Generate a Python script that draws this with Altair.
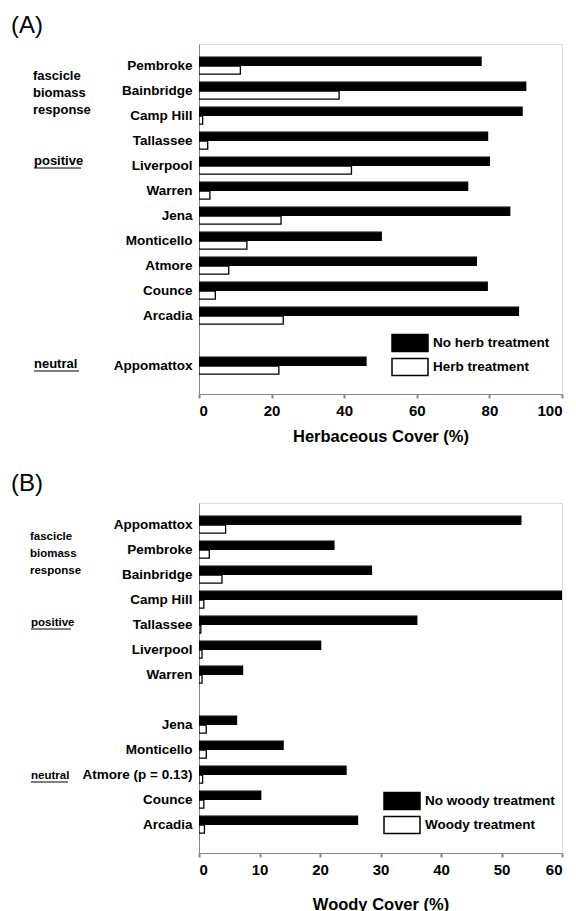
import altair as alt
import pandas as pd

FONT = "Liberation Sans"

# ---------------- Panel A data (Herbaceous cover, %) ----------------
sites_a = ["Pembroke", "Bainbridge", "Camp Hill", "Tallassee", "Liverpool", "Warren",
           "Jena", "Monticello", "Atmore", "Counce", "Arcadia", "Appomattox"]
no_herb = [77.7, 90.0, 89.0, 79.5, 80.0, 74.0, 85.6, 50.2, 76.4, 79.4, 88.0, 46.0]
herb = [11.4, 38.6, 1.0, 2.4, 42.0, 3.0, 22.6, 13.2, 8.2, 4.5, 23.2, 22.0]
legend_a = ["No herb treatment", "Herb treatment"]
order_a = sites_a[:11] + [" "] + sites_a[11:]

# ---------------- Panel B data (Woody cover, %) ----------------
sites_b = ["Appomattox", "Pembroke", "Bainbridge", "Camp Hill", "Tallassee", "Liverpool",
           "Warren", "Jena", "Monticello", "Atmore (p = 0.13)", "Counce", "Arcadia"]
no_woody = [53.2, 22.3, 28.5, 60.0, 36.0, 20.1, 7.2, 6.2, 13.9, 24.3, 10.2, 26.2]
woody = [4.4, 1.7, 3.8, 0.8, 0.3, 0.5, 0.5, 1.2, 1.2, 0.6, 0.8, 0.9]
legend_b = ["No woody treatment", "Woody treatment"]
order_b = sites_b[:7] + [" "] + sites_b[7:]

ticks_a = [0, 20, 40, 60, 80, 100]
ticks_b = [0, 10, 20, 30, 40, 50, 60]


def long_df(sites, v1, v2, names):
    rows = []
    for s, a, b in zip(sites, v1, v2):
        rows.append({"site": s, "treatment": names[0], "value": a})
        rows.append({"site": s, "treatment": names[1], "value": b})
    return pd.DataFrame(rows)


def text_layer(txt, x, y, size, weight="bold", baseline="middle"):
    return alt.Chart(pd.DataFrame({"t": [txt]})).mark_text(
        align="left", baseline=baseline, font=FONT, fontSize=size, fontWeight=weight,
        lineHeight=17, lineBreak="\n", color="black"
    ).encode(text="t:N", x=alt.value(x), y=alt.value(y))


def underline(x1, x2, y):
    return alt.Chart(pd.DataFrame({"u": [0]})).mark_rule(
        stroke="black", strokeWidth=1.2
    ).encode(x=alt.value(x1), x2=alt.value(x2), y=alt.value(y))


def panel(df, order, xdomain, xticks, xtitle, names, legx, legy, title_pad):
    bars = alt.Chart(df).mark_bar(stroke="black", strokeWidth=1.3, clip=True).encode(
        x=alt.X("value:Q",
                scale=alt.Scale(domain=xdomain, nice=False, zero=True),
                axis=alt.Axis(values=xticks, title=xtitle, grid=False, tickSize=4,
                              tickWidth=2, labelPadding=5, titlePadding=title_pad,
                              labelFontSize=15, labelFontWeight="bold",
                              titleFontSize=16.5, titleFontWeight="bold")),
        y=alt.Y("site:N", sort=order,
                scale=alt.Scale(domain=order, paddingInner=0.32, paddingOuter=0.66, align=0.4),
                axis=alt.Axis(title=None, ticks=False, labelPadding=7, labelFontSize=13.5,
                              labelFontWeight="bold", labelLimit=300)),
        yOffset=alt.YOffset("treatment:N", sort=names,
                            scale=alt.Scale(domain=names, paddingInner=0.1, paddingOuter=0)),
        color=alt.Color("treatment:N", sort=names,
                        scale=alt.Scale(domain=names, range=["black", "white"]),
                        legend=alt.Legend(title=None, orient="none", legendX=legx, legendY=legy,
                                          symbolType="M-2,-0.94H2V0.94H-2Z", symbolSize=324,
                                          symbolStrokeColor="black", symbolStrokeWidth=1.5,
                                          symbolOpacity=1, labelFont=FONT, labelFontSize=13.5,
                                          labelFontWeight="bold", labelColor="black",
                                          labelOffset=13, rowPadding=0, padding=0)),
    )
    return bars


df_a = long_df(sites_a, no_herb, herb, legend_a)
df_b = long_df(sites_b, no_woody, woody, legend_b)

chart_a = alt.layer(
    panel(df_a, order_a, [0, 100], ticks_a, "Herbaceous Cover (%)", legend_a, 201, 289, 10),
    text_layer("(A)", -188, -18, 24, weight="normal"),
    text_layer("fascicle\nbiomass\nresponse", -166, 26, 13, baseline="top"),
    text_layer("positive", -165, 117, 13),
    underline(-165, -118, 124),
    text_layer("neutral", -165, 320, 13),
    underline(-165, -120, 327),
).properties(width=363, height=350)

chart_b = alt.layer(
    panel(df_b, order_b, [0, 60], ticks_b, "Woody Cover (%)", legend_b, 193, 288, 19),
    text_layer("(B)", -188, -19, 24, weight="normal"),
    text_layer("fascicle\nbiomass\nresponse", -169, 28, 11.5, baseline="top"),
    text_layer("positive", -168, 120, 11.5),
    underline(-168, -128, 126),
    text_layer("neutral", -168, 273, 11.5),
    underline(-168, -131, 279),
).properties(width=363, height=350)

chart = alt.vconcat(chart_a, chart_b, spacing=26).resolve_scale(
    x="independent", y="independent", color="independent", yOffset="independent"
).resolve_legend(color="independent").properties(
    padding={"left": 2, "top": 5, "right": 0, "bottom": 0}
).configure_view(
    stroke="black", strokeWidth=1.5
).configure_axis(
    domainColor="black", domainWidth=2, tickColor="black", labelColor="black",
    titleColor="black", labelFont=FONT, titleFont=FONT
).configure(background="white")

chart.save("out.html", embed_options={"renderer": "svg", "actions": False})
